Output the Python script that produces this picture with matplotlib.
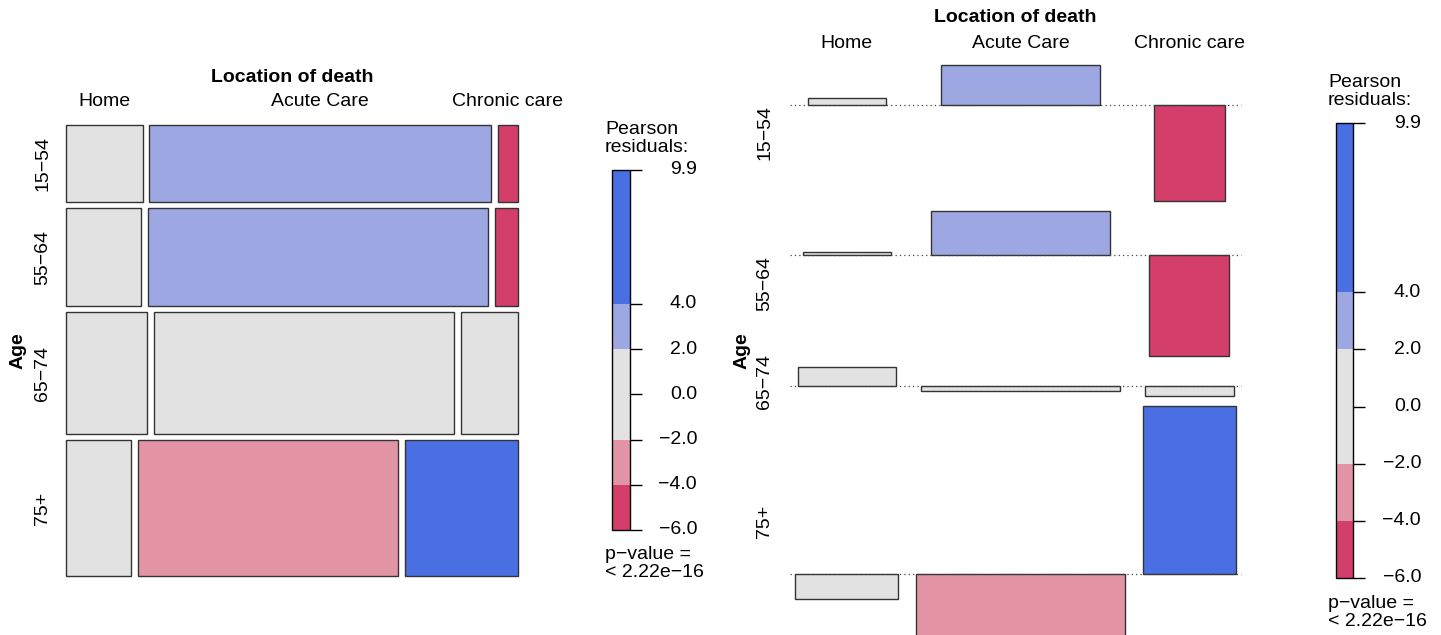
import numpy as np
import matplotlib
matplotlib.use("Agg")
import matplotlib.pyplot as plt
from matplotlib.patches import Rectangle

plt.rcParams['font.family'] = ['Liberation Sans', 'DejaVu Sans']
plt.rcParams['font.size'] = 14

# Age x location of death contingency table
age_groups = ["15\u221254", "55\u221264", "65\u221274", "75+"]
locations = ["Home", "Acute Care", "Chronic care"]
counts = np.array([
    [94, 417, 25],
    [117, 531, 36],
    [157, 582, 111],
    [140, 560, 243],
])
p_value_text = "p\u2212value =\n< 2.22e\u221216"

# Pearson residuals under independence
n_total = counts.sum()
row_tot = counts.sum(axis=1)
col_tot = counts.sum(axis=0)
expected = np.outer(row_tot, col_tot) / n_total
resid = (counts - expected) / np.sqrt(expected)
rmin, rmax = resid.min(), resid.max()

BLUE_DK, BLUE_LT = "#4A6FE3", "#9DA8E2"
GREY = "#E2E2E2"
RED_LT, RED_DK = "#E495A5", "#D33F6A"
EDGE = "#333333"


def shade(r):
    if r > 4:
        return BLUE_DK
    if r > 2:
        return BLUE_LT
    if r < -4:
        return RED_DK
    if r < -2:
        return RED_LT
    return GREY


def minus(s):
    return s.replace("-", "\u2212")


W, H = 1441, 635
fig = plt.figure(figsize=(W / 100, H / 100), dpi=100)


def px_axes(x0, y0, x1, y1):
    ax = fig.add_axes([x0 / W, 1 - y1 / H, (x1 - x0) / W, (y1 - y0) / H])
    ax.set_axis_off()
    return ax


def residual_legend(x0, x1, y_top, y_bot, label_right, title_xy, pval_xy):
    ax = px_axes(x0, y_top, x1, y_bot)
    ax.set_xlim(0, 1)
    ax.set_ylim(rmin, rmax)
    edges = [rmin, -4, -2, 2, 4, rmax]
    cols = [RED_DK, RED_LT, GREY, BLUE_LT, BLUE_DK]
    for lo, hi, c in zip(edges[:-1], edges[1:], cols):
        ax.bar(0.5, hi - lo, bottom=lo, width=1, color=c, linewidth=0)
    ax.add_patch(Rectangle((0, rmin), 1, rmax - rmin, fill=False,
                           edgecolor="black", linewidth=1, clip_on=False))
    ticks = [rmin, -4, -2, 0, 2, 4, rmax]
    ax.hlines(ticks, 1, 1 + 12 / (x1 - x0), color="black", linewidth=1,
              clip_on=False)
    lx = (label_right - x0) / (x1 - x0)
    for t in ticks:
        ax.text(lx, t, minus(f"{t:.1f}"), ha="right", va="center",
                clip_on=False)
    fig.text(title_xy[0] / W, 1 - title_xy[1] / H, "Pearson\nresiduals:",
             ha="left", va="top", linespacing=1.08)
    fig.text(pval_xy[0] / W, 1 - pval_xy[1] / H, p_value_text,
             ha="left", va="top", linespacing=1.08)


# ---- mosaic plot ----
ax1 = px_axes(66, 125, 518, 576)
mw, mh = 452, 451
gap_v, gap_h = 6, 6.5
ax1.set_xlim(0, mw)
ax1.set_ylim(mh, 0)
row_h = row_tot / n_total * (mh - gap_v * (len(age_groups) - 1))
y = 0
for i, age in enumerate(age_groups):
    widths = counts[i] / row_tot[i] * (mw - gap_h * (len(locations) - 1))
    x = 0
    for j in range(len(locations)):
        ax1.add_patch(Rectangle((x, y), widths[j], row_h[i],
                                facecolor=shade(resid[i, j]),
                                edgecolor=EDGE, linewidth=1, clip_on=False))
        if i == 0:
            ax1.text(x + widths[j] / 2, -24, locations[j], ha="center",
                     va="center", clip_on=False)
        x += widths[j] + gap_h
    ax1.text(-23, y + row_h[i] / 2, age, rotation=90, ha="center",
             va="center", clip_on=False)
    y += row_h[i] + gap_v
ax1.text(mw / 2, -48, "Location of death", fontweight="bold", ha="center",
         va="center", clip_on=False)
ax1.text(-48, mh / 2, "Age", fontweight="bold", rotation=90, ha="center",
         va="center", clip_on=False)

residual_legend(612, 630, 170, 530, 697, (605, 121), (605, 546))

# ---- association plot ----
sx, sy = 8.2, 16.9          # pixels per unit of sqrt(expected) / residual
gap_c, gap_r, pad = 2.1, 0.62, 0.6
bar_w = np.sqrt(expected)
col_w = bar_w.max(axis=0)
centers = []
cx = 0
for w in col_w:
    centers.append(cx + w / 2)
    cx += w + gap_c
total_w = cx - gap_c

tops = np.maximum(resid.max(axis=1), 0)
bots = np.maximum(-resid.min(axis=1), 0)
baselines = []
cy = 0
for t, b in zip(tops, bots):
    baselines.append(cy - t)
    cy -= t + b + gap_r
total_h = -(cy + gap_r)

left_px, top_px = 795 - pad * sx, 65
ax2 = px_axes(left_px, top_px, left_px + (total_w + 2 * pad) * sx,
              top_px + total_h * sy)
ax2.set_xlim(-pad, total_w + pad)
ax2.set_ylim(-total_h, 0)
for i, age in enumerate(age_groups):
    base = baselines[i]
    ax2.plot([-pad, total_w + pad], [base, base], color="#444444",
             linestyle=(0, (1, 2.5)), linewidth=0.9, clip_on=False)
    for j in range(len(locations)):
        r = resid[i, j]
        ax2.add_patch(Rectangle((centers[j] - bar_w[i, j] / 2, min(base, base + r)),
                                bar_w[i, j], abs(r),
                                facecolor=shade(r), edgecolor=EDGE,
                                linewidth=1, clip_on=False))
    mid = base + (tops[i] - bots[i]) / 2
    ax2.text((765 - 795) / sx, mid, age, rotation=90, ha="center",
             va="center", clip_on=False)
for j, loc in enumerate(locations):
    ax2.text(centers[j], (top_px - 43) / sy, loc, ha="center", va="center",
             clip_on=False)
ax2.text(total_w / 2, (top_px - 18) / sy, "Location of death",
         fontweight="bold", ha="center", va="center", clip_on=False)
ax2.text((742 - 795) / sx, -total_h / 2, "Age", fontweight="bold",
         rotation=90, ha="center", va="center", clip_on=False)

residual_legend(1336, 1353, 123, 578, 1421, (1328, 74), (1328, 595))

fig.savefig("out.png", dpi=100)
